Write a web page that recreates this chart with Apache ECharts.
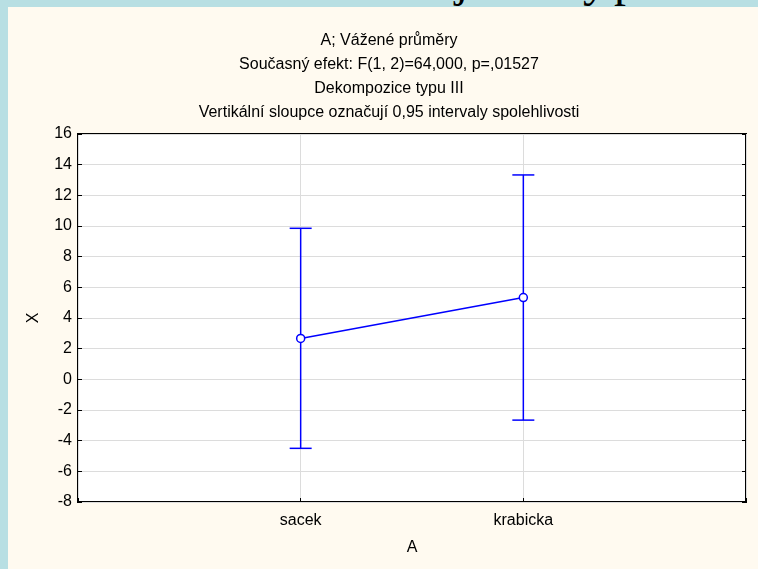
<!DOCTYPE html>
<html>
<head>
<meta charset="utf-8">
<script src="https://cdn.jsdelivr.net/npm/echarts@6/dist/echarts.min.js"></script>
<style>
  body{margin:0;background:#b8dfe3;}
  #head{position:absolute;left:0;top:0;width:758px;height:7px;overflow:hidden;}
  #head span{position:absolute;font-family:"Liberation Serif",serif;font-size:48px;line-height:48px;color:#000;top:-44px;}
  #panel{position:absolute;left:8px;top:7px;width:750px;height:562px;background:#fffaf0;}
  #main{position:absolute;left:0;top:0;width:758px;height:569px;}
</style>
</head>
<body>
<div id="head"><span style="left:455px">j</span><span style="left:583px">y</span><span style="left:614px">p</span></div>
<div id="panel"></div>
<div id="main"></div>
<script>
var categories = ['sacek', 'krabicka'];
var means = [2.67, 5.33];
var lower = [-4.5, -2.66];
var upper = [9.85, 13.33];
var titleLines = [
  'A; Vážené průměry',
  'Současný efekt: F(1, 2)=64,000, p=,01527',
  'Dekompozice typu III',
  'Vertikální sloupce označují 0,95 intervaly spolehlivosti'
];

var lineData = [];
var barData = [];
for (var i = 0; i < categories.length; i++) {
  lineData.push([i + 1, means[i]]);
  barData.push([i + 1, lower[i], upper[i]]);
}

var font = 'Liberation Sans';
var fs = 16;
var txt = {fontFamily: font, fontSize: fs, color: '#000'};

var titles = [];
for (var j = 0; j < titleLines.length; j++) {
  titles.push({
    text: titleLines[j],
    left: 384,
    top: 28 + j * 24,
    textAlign: 'center',
    textStyle: {fontFamily: font, fontSize: fs, fontWeight: 'normal', color: '#000'}
  });
}

var myChart = echarts.init(document.getElementById('main'));
var option = {
  animation: false,
  title: titles,
  grid: {
    left: 78, top: 134, right: 12, bottom: 67,
    show: true,
    backgroundColor: '#fff',
    borderColor: '#000',
    borderWidth: 2
  },
  xAxis: {
    type: 'value',
    min: 0, max: 3, interval: 1,
    name: 'A',
    nameLocation: 'middle',
    nameGap: 38,
    nameTextStyle: txt,
    axisLine: {show: false, onZero: false},
    axisTick: {inside: true, length: 4, lineStyle: {color: '#000'}},
    axisLabel: {
      margin: 11,
      fontFamily: font, fontSize: fs, color: '#000',
      formatter: function (v) { return categories[v - 1] || ''; }
    },
    splitLine: {show: true, lineStyle: {color: '#dcdcdc', width: 1}}
  },
  yAxis: [
    {
      type: 'value',
      min: -8, max: 16, interval: 2,
      name: 'X',
      nameLocation: 'middle',
      nameGap: 36,
      nameRotate: 90,
      nameTextStyle: txt,
      axisLine: {show: false, onZero: false},
      axisTick: {show: true, inside: true, length: 4, lineStyle: {color: '#000'}},
      axisLabel: {margin: 6, fontFamily: font, fontSize: fs, color: '#000'},
      splitLine: {show: true, lineStyle: {color: '#dcdcdc', width: 1}}
    },
    {
      type: 'value',
      position: 'right',
      min: -8, max: 16, interval: 2,
      axisLine: {show: false, onZero: false},
      axisTick: {show: true, inside: true, length: 4, lineStyle: {color: '#000'}},
      axisLabel: {show: false},
      splitLine: {show: false}
    }
  ],
  series: [
    {
      type: 'custom',
      name: 'ci',
      data: barData,
      encode: {x: 0, y: [1, 2]},
      renderItem: function (params, api) {
        var x = api.value(0);
        var lo = api.coord([x, api.value(1)]);
        var hi = api.coord([x, api.value(2)]);
        var w = 11;
        var st = {stroke: '#0000ff', lineWidth: 1.5};
        return {
          type: 'group',
          children: [
            {type: 'line', shape: {x1: lo[0], y1: lo[1], x2: hi[0], y2: hi[1]}, style: st},
            {type: 'line', shape: {x1: lo[0] - w, y1: lo[1], x2: lo[0] + w, y2: lo[1]}, style: st},
            {type: 'line', shape: {x1: hi[0] - w, y1: hi[1], x2: hi[0] + w, y2: hi[1]}, style: st}
          ]
        };
      },
      z: 3
    },
    {
      type: 'line',
      name: 'mean',
      data: lineData,
      symbol: 'circle',
      symbolSize: 8,
      lineStyle: {color: '#0000ff', width: 1.5},
      itemStyle: {color: '#fff', borderColor: '#0000ff', borderWidth: 1.5},
      z: 4
    }
  ]
};
myChart.setOption(option);
</script>
</body>
</html>
